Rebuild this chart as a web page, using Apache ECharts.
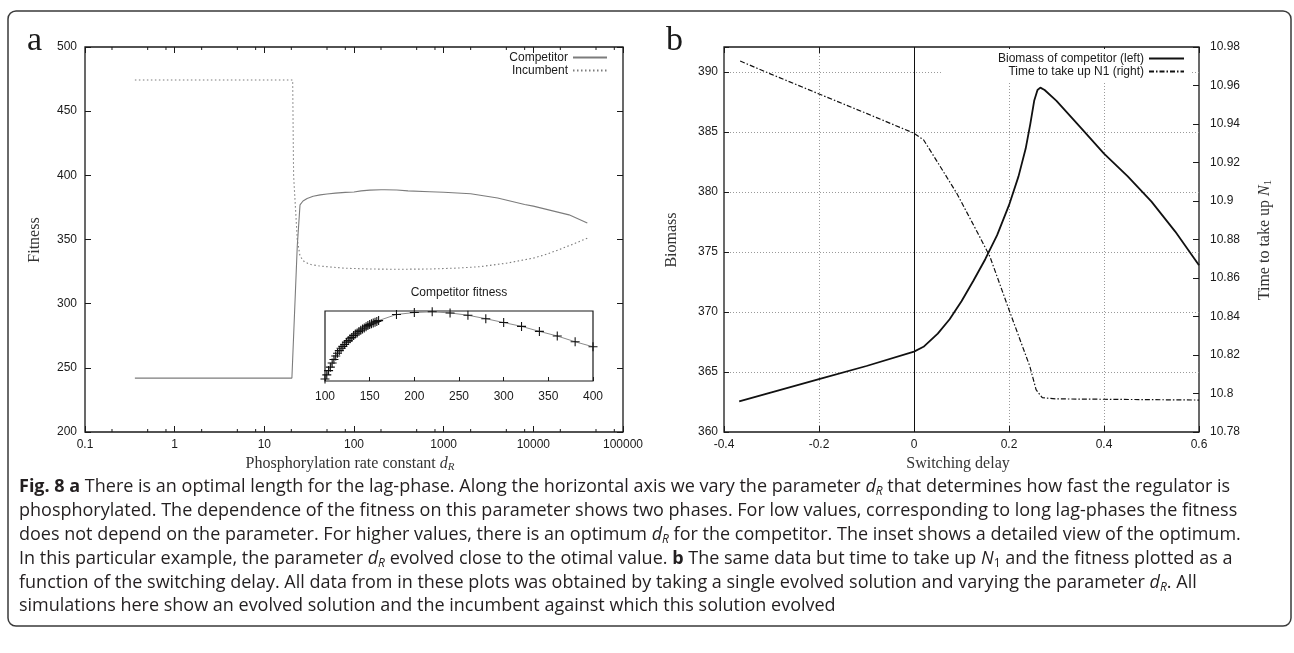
<!DOCTYPE html>
<html>
<head>
<meta charset="utf-8">
<script src="https://cdn.jsdelivr.net/npm/echarts@6/dist/echarts.min.js"></script>
<style>
  html, body { margin: 0; padding: 0; background: #fff; }
  #chart { width: 1294px; height: 653px; }
</style>
</head>
<body>
<div id="chart"></div>
<script>
// ---- Panel a: fitness vs phosphorylation rate constant d_R (log scale) ----
const competitorFitness = [
  [0.36, 242.0], [20.3, 242.0], [23.3, 345], [25, 377], [27, 380], [30, 382],
  [35, 383.7], [42, 384.8], [50, 385.5], [62, 386.1], [80, 386.7], [100, 387.05],
  [120, 387.9], [150, 388.47], [200, 388.78], [220, 388.8], [300, 388.52],
  [400, 387.89], [700, 387.2], [1000, 386.8], [2000, 385.6], [4000, 382.3],
  [8000, 377.3], [10000, 376.0], [16000, 372.5], [25000, 369.2], [40000, 362.8]
];
const incumbentFitness = [
  [0.36, 474.3], [20.7, 474.3], [21.2, 400], [23.3, 350], [25, 337], [28, 332.5],
  [33, 330.5], [40, 329.5], [54, 328.6], [80, 327.6], [150, 327.0], [300, 326.8],
  [700, 327.0], [1500, 327.8], [2500, 328.8], [5000, 331.5], [10000, 335.5],
  [14000, 338.5], [20000, 342.5], [28000, 346.5], [40000, 351.0]
];
// minor ticks drawn on the log axis (2, 5, 8 in every decade)
const logMinorTicks = [0.2, 0.5, 0.8, 2, 5, 8, 20, 50, 80, 200, 500, 800,
  2000, 5000, 8000, 20000, 50000, 80000];

// ---- Inset: competitor fitness around the optimum ----
const insetRate = [100, 102, 104, 106, 108, 110, 112, 114, 116, 118, 120, 122, 124,
  126, 128, 130, 132, 134, 136, 138, 140, 142, 144, 146, 148, 150, 152, 154, 156,
  158, 160, 180, 200, 220, 240, 260, 280, 300, 320, 340, 360, 380, 400];
const insetFitness = [387.05, 387.16, 387.27, 387.36, 387.47, 387.56, 387.65,
  387.72, 387.79, 387.85, 387.90, 387.95, 388.01, 388.05, 388.10, 388.13, 388.18,
  388.22, 388.25, 388.29, 388.32, 388.35, 388.38, 388.41, 388.44, 388.47, 388.49,
  388.51, 388.53, 388.55, 388.57, 388.73, 388.78, 388.80, 388.77, 388.71, 388.62,
  388.52, 388.42, 388.29, 388.17, 388.02, 387.89];

// ---- Panel b: biomass and N1 uptake time vs switching delay ----
const biomassCompetitor = [
  [-0.368, 362.55], [-0.3, 363.3], [-0.2, 364.4], [-0.1, 365.5], [0, 366.7],
  [0.02, 367.1], [0.05, 368.2], [0.075, 369.4], [0.1, 370.9], [0.125, 372.6],
  [0.15, 374.4], [0.175, 376.4], [0.2, 378.9], [0.22, 381.3], [0.235, 383.6],
  [0.245, 385.7], [0.253, 387.6], [0.26, 388.5], [0.266, 388.7], [0.275, 388.5],
  [0.3, 387.6], [0.35, 385.4], [0.4, 383.2], [0.45, 381.3], [0.5, 379.2],
  [0.55, 376.7], [0.6, 373.9]
];
const uptakeTimeN1 = [
  [-0.366, 10.9727], [-0.3, 10.9658], [-0.2, 10.9556], [-0.1, 10.9455],
  [0, 10.9352], [0.02, 10.9318], [0.05, 10.92], [0.09, 10.904], [0.135, 10.883],
  [0.16, 10.871], [0.2, 10.8435], [0.244, 10.814], [0.257, 10.802],
  [0.27, 10.7978], [0.3, 10.7972], [0.4, 10.797], [0.5, 10.7968], [0.6, 10.7966]
];

const legendA = ['Competitor', 'Incumbent'];
const legendB = ['Biomass of competitor (left)', 'Time to take up N1 (right)'];

const SANS = '"Liberation Sans", Arial, sans-serif';
const SERIF = '"Liberation Serif", "DejaVu Serif", serif';
const CAP = '"Open Sans", "Noto Sans", sans-serif';
const INK = '#1a1a1a';
const GREY = '#7c7c7c';

const ticksIn = (len) => ({ show: true, inside: true, length: len, lineStyle: { color: INK, width: 1 } });
const noAxisLine = { show: false, onZero: false };
const labelStyle = (margin, extra) => Object.assign({
  fontFamily: SANS, fontSize: 12, color: INK, margin: margin
}, extra || {});
const trimNum = (d) => (v) => String(+(+v).toFixed(d));

// '+' marker for the inset points
const PLUS = 'path://M4.4,0 H5.6 V4.4 H10 V5.6 H5.6 V10 H4.4 V5.6 H0 V4.4 H4.4 Z';

const chart = echarts.init(document.getElementById('chart'), null, { renderer: 'canvas' });

const captionRich = {
  b: { font: 'bold 18px ' + CAP, lineHeight: 22 },
  i: { font: 'italic 18px ' + CAP, lineHeight: 22 },
  s: { font: 'italic 12px ' + CAP, lineHeight: 12, verticalAlign: 'bottom' },
  n: { font: '12px ' + CAP, lineHeight: 12, verticalAlign: 'bottom' }
};
const captionLines = [
  '{b|Fig. 8 a} There is an optimal length for the lag-phase. Along the horizontal axis we vary the parameter {i|d}{s|R} that determines how fast the regulator is',
  'phosphorylated. The dependence of the fitness on this parameter shows two phases. For low values, corresponding to long lag-phases the fitness',
  'does not depend on the parameter. For higher values, there is an optimum {i|d}{s|R} for the competitor. The inset shows a detailed view of the optimum.',
  'In this particular example, the parameter {i|d}{s|R} evolved close to the otimal value. {b|b} The same data but time to take up {i|N}{n|1} and the fitness plotted as a',
  'function of the switching delay. All data from in these plots was obtained by taking a single evolved solution and varying the parameter {i|d}{s|R}. All',
  'simulations here show an evolved solution and the incumbent against which this solution evolved'
];
const captionY = [487, 511, 535, 559, 583, 606];

const titleRich = {
  i: { font: 'italic 16px ' + SERIF, lineHeight: 18 },
  s: { font: 'italic 11px ' + SERIF, lineHeight: 10, verticalAlign: 'bottom' },
  n: { font: '11px ' + SERIF, lineHeight: 10, verticalAlign: 'bottom' }
};
const serifText = (text, x, y, rot) => ({
  type: 'text', x: x, y: y, rotation: rot || 0, silent: true,
  style: {
    text: text, font: '16px ' + SERIF, lineHeight: 18, fill: '#333',
    align: 'center', verticalAlign: 'middle', rich: titleRich
  }
});

const graphics = [
  { type: 'rect', silent: true, shape: { x: 8, y: 11, width: 1283, height: 615, r: 8 },
    style: { fill: 'none', stroke: '#3a3a3a', lineWidth: 1.5 } },
  { type: 'text', x: 27, y: 41, silent: true,
    style: { text: 'a', font: '34px ' + SERIF, fill: INK, align: 'left', verticalAlign: 'middle' } },
  { type: 'text', x: 666, y: 41, silent: true,
    style: { text: 'b', font: '34px ' + SERIF, fill: INK, align: 'left', verticalAlign: 'middle' } },
  serifText('Fitness', 35, 240, Math.PI / 2),
  serifText('Phosphorylation rate constant {i|d}{s|R}', 350, 464),
  serifText('Biomass', 672, 240, Math.PI / 2),
  serifText('Switching delay', 958, 464),
  serifText('Time to take up {i|N}{n|1}', 1265, 240, Math.PI / 2),
  { type: 'text', x: 459, y: 293, silent: true,
    style: { text: 'Competitor fitness', font: '12px ' + SANS, fill: INK, align: 'center', verticalAlign: 'middle' } }
];
captionLines.forEach((line, k) => {
  graphics.push({
    type: 'text', x: 19, y: captionY[k], silent: true,
    style: { text: line, font: '18px ' + CAP, lineHeight: 22, fill: '#231f20',
      align: 'left', verticalAlign: 'middle', rich: captionRich }
  });
});

const option = {
  animation: false,
  backgroundColor: '#fff',
  grid: [
    { left: 85, top: 47, width: 538, height: 385, show: true, borderColor: INK, borderWidth: 1.3, backgroundColor: 'transparent' },
    { left: 325, top: 311, width: 268, height: 70, show: true, borderColor: INK, borderWidth: 1.2, backgroundColor: '#fff' },
    { left: 724, top: 47, width: 475, height: 385, show: true, borderColor: INK, borderWidth: 1.3, backgroundColor: 'transparent' }
  ],
  xAxis: [
    { gridIndex: 0, type: 'log', logBase: 10, min: 0.1, max: 100000, position: 'bottom',
      axisLine: noAxisLine, axisTick: ticksIn(6), splitLine: { show: false },
      axisLabel: labelStyle(7, { formatter: (v) => String(+(+v).toPrecision(6)) }) },
    { gridIndex: 0, type: 'log', logBase: 10, min: 0.1, max: 100000, position: 'top',
      axisLine: noAxisLine, axisTick: ticksIn(6), splitLine: { show: false }, axisLabel: { show: false } },
    { gridIndex: 1, type: 'value', min: 100, max: 400, interval: 50, position: 'bottom',
      axisLine: noAxisLine, axisTick: ticksIn(4), splitLine: { show: false },
      axisLabel: labelStyle(10, { formatter: trimNum(0) }) },
    { gridIndex: 2, type: 'value', min: -0.4, max: 0.6, interval: 0.2, position: 'bottom',
      axisLine: noAxisLine, axisTick: ticksIn(6),
      splitLine: { show: true, showMinLine: false, showMaxLine: false, lineStyle: { color: '#9a9a9a', type: [1, 2], width: 1 } },
      axisLabel: labelStyle(7, { formatter: trimNum(1) }) },
    { gridIndex: 2, type: 'value', min: -0.4, max: 0.6, interval: 0.2, position: 'top',
      axisLine: noAxisLine, axisTick: ticksIn(6), splitLine: { show: false }, axisLabel: { show: false } }
  ],
  yAxis: [
    { gridIndex: 0, type: 'value', min: 200, max: 500, interval: 50, position: 'left',
      axisLine: noAxisLine, axisTick: ticksIn(6), splitLine: { show: false },
      axisLabel: labelStyle(8, { formatter: trimNum(0) }) },
    { gridIndex: 0, type: 'value', min: 200, max: 500, interval: 50, position: 'right',
      axisLine: noAxisLine, axisTick: ticksIn(6), splitLine: { show: false }, axisLabel: { show: false } },
    { gridIndex: 1, type: 'value', min: 387.0, max: 388.82, position: 'left',
      axisLine: noAxisLine, axisTick: { show: false }, splitLine: { show: false }, axisLabel: { show: false } },
    { gridIndex: 2, type: 'value', min: 360, max: 360 + 385 / 12, interval: 5, position: 'left',
      axisLine: noAxisLine, axisTick: ticksIn(5),
      splitLine: { show: true, showMinLine: false, showMaxLine: false, lineStyle: { color: '#9a9a9a', type: [1, 2], width: 1 } },
      axisLabel: labelStyle(6, { formatter: (v) => (Math.abs(v / 5 - Math.round(v / 5)) < 1e-6 ? String(Math.round(v)) : '') }) },
    { gridIndex: 2, type: 'value', min: 10.78, max: 10.98, interval: 0.02, position: 'right',
      axisLine: noAxisLine, axisTick: ticksIn(6), splitLine: { show: false },
      axisLabel: labelStyle(11, { formatter: trimNum(2) }) }
  ],
  legend: [
    { data: legendA, orient: 'vertical', right: 686, top: 51, align: 'right',
      itemWidth: 34, itemHeight: 10, itemGap: 0, padding: 0, selectedMode: false,
      itemStyle: { opacity: 0 },
      textStyle: { fontFamily: SANS, fontSize: 12, color: INK, lineHeight: 13 } },
    { data: legendB, orient: 'vertical', right: 103, top: 49, align: 'right',
      itemWidth: 35, itemHeight: 10, itemGap: 0, padding: [3, 6, 3, 57], selectedMode: false,
      backgroundColor: '#fff', itemStyle: { opacity: 0 },
      textStyle: { fontFamily: SANS, fontSize: 12, color: INK, lineHeight: 13 } }
  ],
  series: [
    { name: 'Competitor', type: 'line', xAxisIndex: 0, yAxisIndex: 0, data: competitorFitness,
      symbol: 'none', lineStyle: { color: GREY, width: 1.1 }, itemStyle: { color: GREY } },
    { name: 'Incumbent', type: 'line', xAxisIndex: 0, yAxisIndex: 0, data: incumbentFitness,
      symbol: 'none', lineStyle: { color: GREY, width: 1.1, type: [1.5, 2.5] }, itemStyle: { color: GREY } },
    { type: 'custom', xAxisIndex: 0, yAxisIndex: 0, silent: true, clip: false,
      data: logMinorTicks.map((v) => [v, 300]),
      renderItem: (params, api) => {
        const x = api.coord([api.value(0), api.value(1)])[0];
        const cs = params.coordSys;
        const yb = cs.y + cs.height;
        return { type: 'group', children: [
          { type: 'line', shape: { x1: x, y1: yb, x2: x, y2: yb - 3 }, style: { stroke: INK, lineWidth: 1 } },
          { type: 'line', shape: { x1: x, y1: cs.y, x2: x, y2: cs.y + 3 }, style: { stroke: INK, lineWidth: 1 } }
        ] };
      } },
    { name: 'inset', type: 'line', xAxisIndex: 2, yAxisIndex: 2,
      data: insetRate.map((r, k) => [r, insetFitness[k]]),
      symbol: PLUS, symbolSize: 9, showAllSymbol: true,
      lineStyle: { color: '#8a8a8a', width: 1 }, itemStyle: { color: '#111' } },
    { name: legendB[0], type: 'line', xAxisIndex: 3, yAxisIndex: 3, data: biomassCompetitor,
      symbol: 'none', lineStyle: { color: '#111', width: 1.8 }, itemStyle: { color: '#111' },
      markLine: { silent: true, symbol: 'none', label: { show: false },
        lineStyle: { color: '#111', type: 'solid', width: 1 }, data: [{ xAxis: 0 }] } },
    { name: legendB[1], type: 'line', xAxisIndex: 3, yAxisIndex: 4, data: uptakeTimeN1,
      symbol: 'none', lineStyle: { color: '#111', width: 1.2, type: [5, 2, 1.5, 2] }, itemStyle: { color: '#111' } }
  ],
  graphic: graphics
};

chart.setOption(option);
</script>
</body>
</html>
